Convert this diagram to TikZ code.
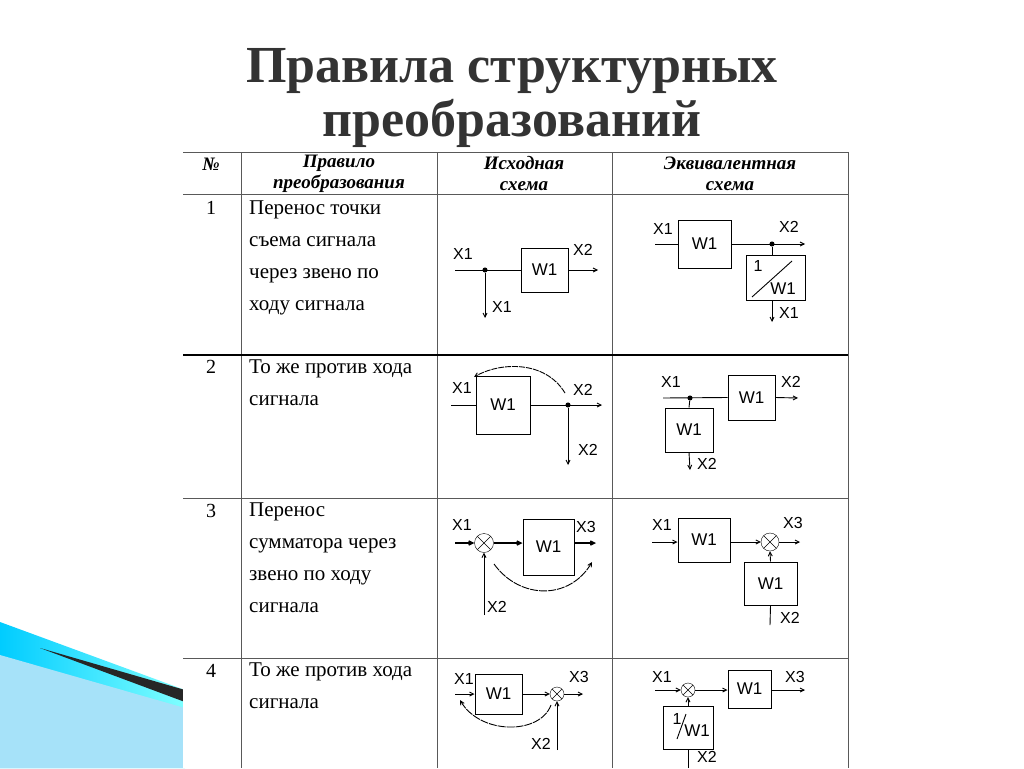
\documentclass[tikz,border=0pt]{standalone}
\usepackage{fontspec}
\setmainfont{Liberation Serif}
\newfontfamily\lab{Liberation Sans}
\usetikzlibrary{arrows.meta}
\begin{document}
\begin{tikzpicture}[x=1pt,y=-1pt,
  >={Straight Barb[length=4pt,width=4pt]},
  blk/.style={draw,line width=1pt,minimum width=#1,inner sep=0pt,font=\lab\fontsize{17}{17}\selectfont},
  blk/.default=47pt,
  sum/.style={draw,circle,minimum size=#1,inner sep=0pt,path picture={\draw (path picture bounding box.north west)--(path picture bounding box.south east)(path picture bounding box.north east)--(path picture bounding box.south west);}},
  lb/.style={font=\lab\fontsize{16}{16}\selectfont,inner sep=0pt},
  ln/.style={line width=0.9pt},
  cell/.style={anchor=north west,font=\fontsize{21}{31.7}\selectfont,align=left,inner sep=0pt},
  hd/.style={font=\bfseries\itshape\fontsize{19}{21}\selectfont,align=center,inner sep=0pt},
  dot/.style={circle,fill,inner sep=1.8pt}]
\useasboundingbox (0,0) rectangle (1024,768);
\fill[white] (0,0) rectangle (1024,768);
% decoration
\shade[left color=cyan!80!blue,right color=cyan!50] (0,622) -- (185,690) -- (185,768) -- (0,768) -- cycle;
\fill[cyan!35] (0,655) -- (185,708) -- (185,768) -- (0,768) -- cycle;
\fill[black!85] (40,648) -- (185,690) -- (185,702) -- cycle;
% title
\node[font=\bfseries\fontsize{52}{56}\selectfont,text=black!80] (t1) at (512,71) {Правила структурных};
\node[font=\bfseries\fontsize{52}{56}\selectfont,text=black!80] (t2) at (512,123) {преобразований};
% table
\fill[white] (183,152) rectangle (848,768);
\draw[gray!70!black] (183,152) -- (848,152) (183,194) -- (848,194) (183,498) -- (848,498)
  (183,658) -- (848,658) (241,152) -- (241,768) (437,152) -- (437,768) (612,152) -- (612,768)
  (848,152) -- (848,768);
\draw[line width=1.2pt] (183,355) -- (848,355);
\node[hd] (h0) at (211,164) {№};
\node[hd] (h1) at (339,174) {Правило\\преобразования};
\node[hd] (h2) at (524,174) {Исходная\\схема};
\node[hd] (h3) at (730,174) {Эквивалентная\\схема};
\foreach \n/\y in {1/208,2/367,3/511,4/671}{\node[font=\fontsize{20}{20}\selectfont] (n\n) at (211,\y) {\n};}
\node[cell] (c1) at (249,201) {Перенос точки\\съема сигнала\\через звено по\\ходу сигнала};
\node[cell] (c2) at (249,360) {То же против хода\\сигнала};
\node[cell] (c3) at (249,503) {Перенос\\сумматора через\\звено по ходу\\сигнала};
\node[cell] (c4) at (249,663) {То же против хода\\сигнала};
% ===== row 1 source
\node[blk,minimum height=44pt] (a1) at (544.5,270) {W1};
\coordinate (a1i) at (455,270); \node[dot] (a1d) at (485,270) {};
\coordinate (a1o) at (598,270); \coordinate (a1b) at (485,318);
\draw[ln] (a1i) -- (a1.west); \draw[ln,->] (a1.east) -- (a1o); \draw[ln,->] (a1d) -- (a1b);
\node[lb] at (463,254) {X1}; \node[lb] at (583,250) {X2}; \node[lb] at (502,307) {X1};
% row 1 equiv
\node[blk,minimum width=53pt,minimum height=48pt] (b1) at (704.5,244) {W1};
\node[draw,line width=1pt,minimum width=59pt,minimum height=45pt] (b1r) at (775.5,277.5) {};
\node[lb] at (758,266) {1}; \node[lb,font=\lab\fontsize{17}{17}\selectfont] at (783,289) {W1};
\draw[ln] (752,297) -- (792,261);
\coordinate (b1i) at (655,244); \node[dot] (b1d) at (772,244) {};
\coordinate (b1o) at (805,244); \coordinate (b1b) at (772,322);
\draw[ln] (b1i) -- (b1.west); \draw[ln,->] (b1.east) -- (b1o); \draw[ln] (b1d) -- (772,255);
\draw[ln,->] (772,300) -- (b1b);
\node[lb] at (663,229) {X1}; \node[lb] at (789,227) {X2}; \node[lb] at (789,313) {X1};
% ===== row 2 source
\node[blk,minimum width=54pt,minimum height=58pt] (a2) at (503,405) {W1};
\coordinate (a2i) at (451,405); \node[dot] (a2d) at (568,405) {};
\coordinate (a2o) at (602,405); \coordinate (a2b) at (568,465);
\draw[ln] (a2i) -- (a2.west); \draw[ln,->] (a2.east) -- (a2o); \draw[ln,->] (a2d) -- (a2b);
\draw[ln,dash pattern=on 6pt off 1pt,->] (565,393) .. controls (545,360) and (500,362) .. (474,377);
\node[lb] at (462,388) {X1}; \node[lb] at (583,390) {X2}; \node[lb] at (588,450) {X2};
% row 2 equiv
\node[blk,minimum width=47pt,minimum height=45pt] (b2) at (751.5,397.5) {W1};
\node[blk,minimum width=48pt,minimum height=44pt] (b2r) at (689,430) {W1};
\coordinate (b2i) at (663,398); \node[dot] (b2d) at (690,398) {};
\coordinate (b2o) at (798,398); \coordinate (b2b) at (690,470);
\draw[ln] (b2i) -- (b2.west); \draw[ln,->] (b2.east) -- (b2o); \draw[ln] (b2d) -- (b2r.north);
\draw[ln,->] (b2r.south) -- (b2b);
\node[lb] at (671,382) {X1}; \node[lb] at (791,382) {X2}; \node[lb] at (707,464) {X2};
% ===== row 3 source
\node[sum,minimum size=19pt] (s3) at (484,543) {};
\node[blk,minimum width=51pt,minimum height=56pt] (a3) at (548.5,547) {W1};
\coordinate (a3i) at (455,543); \coordinate (a3o) at (596,543); \coordinate (a3b) at (484,615);
\draw[line width=1.5pt,->] (a3i) -- (s3.west); \draw[line width=1.5pt,->] (s3.east) -- (a3.west|-s3);
\draw[line width=1.5pt,->] (a3.east|-s3) -- (a3o); \draw[ln,->] (a3b) -- (s3.south);
\draw[ln,dash pattern=on 8pt off 1pt,->] (494,564) .. controls (520,600) and (570,600) .. (592,562);
\node[lb] at (462,525) {X1}; \node[lb] at (586,527) {X3}; \node[lb] at (497,607) {X2};
% row 3 equiv
\node[sum,minimum size=18pt] (s3b) at (770,542) {};
\node[blk,minimum width=52pt,minimum height=44pt] (b3) at (704,540) {W1};
\node[blk,minimum width=53pt,minimum height=43pt] (b3r) at (770.5,583.5) {W1};
\coordinate (b3i) at (652,542); \coordinate (b3o) at (800,542); \coordinate (b3b) at (770,625);
\draw[ln,->] (b3i) -- (b3.west|-b3i); \draw[ln,->] (b3.east|-b3i) -- (s3b.west);
\draw[ln,->] (s3b.east) -- (b3o); \draw[ln,->] (b3r.north) -- (s3b.south); \draw[ln] (b3b) -- (b3r.south);
\node[lb] at (662,525) {X1}; \node[lb] at (793,523) {X3}; \node[lb] at (790,618) {X2};
% ===== row 4 source
\node[sum,minimum size=14pt] (s4) at (557,694) {};
\node[blk,minimum width=47pt,minimum height=40pt] (a4) at (498.5,694) {W1};
\coordinate (a4i) at (455,694); \coordinate (a4o) at (583,694); \coordinate (a4b) at (557,750);
\draw[ln,->] (a4i) -- (a4.west); \draw[ln,->] (a4.east) -- (s4.west); \draw[ln,->] (s4.east) -- (a4o);
\draw[ln,->] (a4b) -- (s4.south);
\draw[ln,dash pattern=on 8pt off 1pt,->] (551,705) .. controls (540,735) and (480,735) .. (460,700);
\node[lb] at (464,679) {X1}; \node[lb] at (579,677) {X3}; \node[lb] at (541,744) {X2};
% row 4 equiv
\node[sum,minimum size=14pt] (s4b) at (688,690) {};
\node[blk,minimum width=43pt,minimum height=38pt] (b4) at (749.5,689) {W1};
\node[draw,line width=1pt,minimum width=50pt,minimum height=43pt] (b4r) at (688,727.5) {};
\node[lb] at (677,719) {1}; \node[lb,font=\lab\fontsize{17}{17}\selectfont] at (697,731) {W1};
\draw[ln] (677,739) -- (686,714);
\coordinate (b4i) at (655,690); \coordinate (b4o) at (805,690); \coordinate (b4b) at (688,768);
\draw[ln,->] (b4i) -- (s4b.west); \draw[ln,->] (s4b.east) -- (b4.west|-s4b); \draw[ln,->] (b4.east|-s4b) -- (b4o);
\draw[ln,->] (b4r.north) -- (s4b.south); \draw[ln] (b4b) -- (b4r.south);
\node[lb] at (662,677) {X1}; \node[lb] at (795,677) {X3}; \node[lb] at (707,757) {X2};
\end{tikzpicture}
\end{document}
